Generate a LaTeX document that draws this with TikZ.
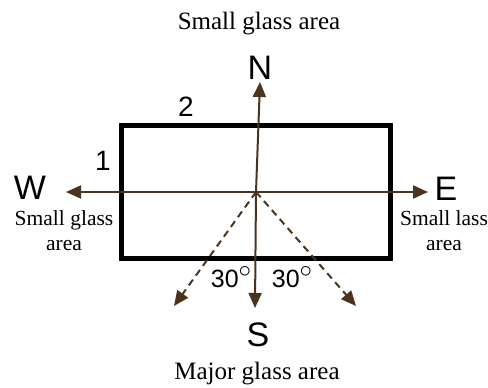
\documentclass[tikz,border=0pt]{standalone}
\usepackage{fontspec}
\setmainfont{Liberation Serif}
\newfontfamily\arialfont{Liberation Sans}
\usetikzlibrary{arrows.meta}
\definecolor{arrowbrown}{RGB}{74,52,30}

\begin{document}
\begin{tikzpicture}[x=1pt, y=-1pt,
    dir/.style={font=\arialfont\fontsize{34}{34}\selectfont, inner sep=0pt},
    wall/.style={font=\arialfont\fontsize{28}{28}\selectfont, inner sep=0pt},
    ang/.style={font=\arialfont\fontsize{25}{25}\selectfont, inner sep=0pt},
    side/.style={font=\fontsize{21.5}{25}\selectfont, align=center, inner sep=0pt},
    caption/.style={font=\fontsize{25}{27}\selectfont, inner sep=0pt, anchor=base},
    axis/.style={draw=arrowbrown, line width=2pt, -{Triangle[length=15pt,width=13pt,fill=arrowbrown]}},
    ray/.style={axis, dash pattern=on 7pt off 5pt}]
  \useasboundingbox (0,0) rectangle (488,388);
  % building outline
  \draw[line width=5pt] (121,125) rectangle (390,258);
  \node[wall] (wallone) at (103,161) {1};
  \node[wall] (walltwo) at (186,107) {2};
  % compass
  \coordinate (o) at (256,192);
  \coordinate (ntip) at (260,82);
  \coordinate (stip) at (255,308);
  \coordinate (wtip) at (66,192);
  \coordinate (etip) at (428,192);
  \coordinate (swtip) at (174,306);
  \coordinate (setip) at (356,306);
  \draw[axis] (o) -- (ntip);
  \draw[axis] (o) -- (stip);
  \draw[axis] (o) -- (wtip);
  \draw[axis] (o) -- (etip);
  \draw[ray] (o) -- (swtip);
  \draw[ray] (o) -- (setip);
  \node[dir] (north) at (260,68) {N};
  \node[dir] (south) at (258,335) {S};
  \node[dir] (west) at (30,188) {W};
  \node[dir] (east) at (446,189) {E};
  \node[ang] (angleft) at (231,277) {30\raisebox{0.38em}{$\circ$}};
  \node[ang] (angright) at (292,277) {30\raisebox{0.38em}{$\circ$}};
  % glass areas
  \node[caption] (topglass) at (259,29) {Small glass area};
  \node[caption] (botglass) at (257,379) {Major glass area};
  \node[side] (westglass) at (64,231) {Small glass\\area};
  \node[side] (eastglass) at (444,231) {Small lass\\area};
\end{tikzpicture}
\end{document}
